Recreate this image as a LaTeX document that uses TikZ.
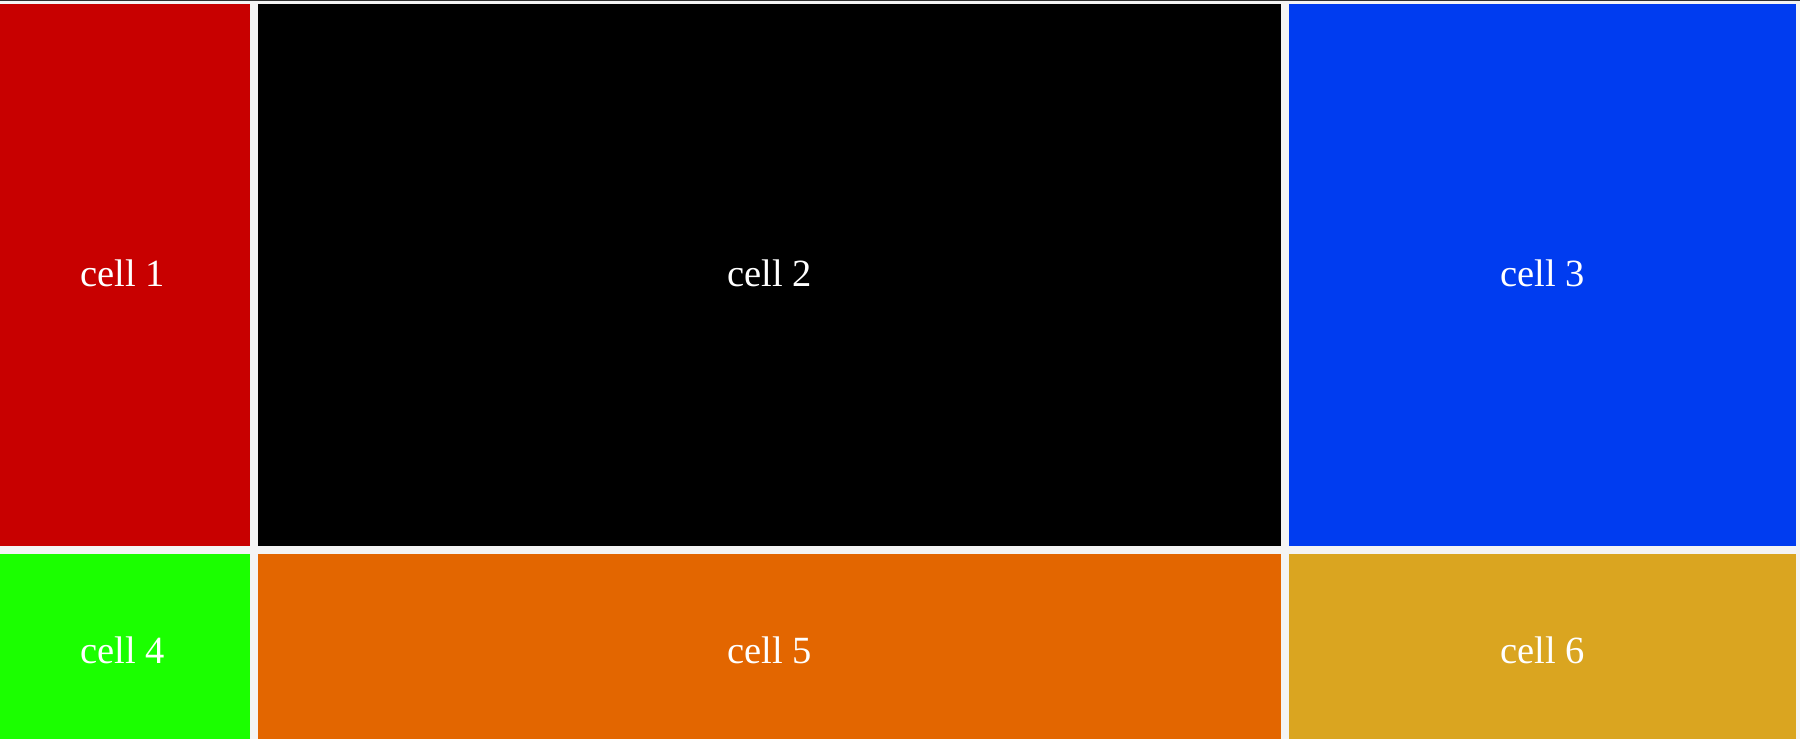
\documentclass[tikz,border=0pt]{standalone}
\usepackage{fontspec}
\setmainfont{Liberation Serif}
\definecolor{cellred}{RGB}{200,0,0}
\definecolor{cellblue}{RGB}{0,60,240}
\definecolor{cellgreen}{RGB}{27,255,0}
\definecolor{cellorange}{RGB}{227,102,0}
\definecolor{cellgold}{RGB}{218,165,32}
\definecolor{gapgray}{RGB}{244,244,244}
\begin{document}
\begin{tikzpicture}[x=1pt,y=-1pt]
	% styles
	\tikzstyle{celltext} += [text=white,anchor=base,inner sep=0pt,font=\fontsize{38.5}{46}\selectfont]
	
	% bounding box
	\path[fill=gapgray,use as bounding box] (0,0) rectangle (1800,739);
	\draw[black!80,line width=1pt] (0,0.5) -- (1800,0.5);
	
	% top row
	\path[fill=cellred] (0,4) rectangle (250,546);
	\path[fill=black] (258,4) rectangle (1281,546);
	\path[fill=cellblue] (1289,4) rectangle (1796,546);
	
	% bottom row
	\path[fill=cellgreen] (0,554) rectangle (250,739);
	\path[fill=cellorange] (258,554) rectangle (1281,739);
	\path[fill=cellgold] (1289,554) rectangle (1796,739);
	
	% labels
	\node[celltext] (c1) at (123,286) {cell 1};
	\node[celltext] (c2) at (769.5,286) {cell 2};
	\node[celltext] (c3) at (1542.5,286) {cell 3};
	\node[celltext] (c4) at (123,663.5) {cell 4};
	\node[celltext] (c5) at (769.5,663.5) {cell 5};
	\node[celltext] (c6) at (1542.5,663.5) {cell 6};
\end{tikzpicture}
\end{document}
